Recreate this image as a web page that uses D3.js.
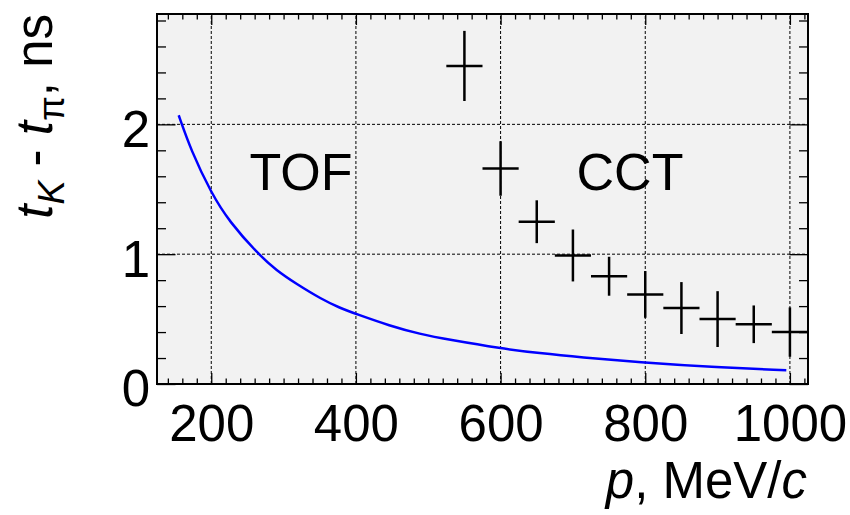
<!DOCTYPE html>
<html>
<head>
<meta charset="utf-8">
<script src="https://d3js.org/d3.v7.min.js"></script>
<style>
  body { margin: 0; background: #fff; }
  text { font-family: "Liberation Sans", Arial, Helvetica, sans-serif; }
</style>
</head>
<body>
<script>

// CCT points: momentum bin centre, t_K - t_pi and its error
var cctP   = [550, 600, 650, 700, 750, 800, 850, 900, 950, 1000];
var cctDt  = [2.45, 1.66, 1.25, 0.99, 0.83, 0.69, 0.585, 0.50, 0.46, 0.40];
var cctErr = [0.27, 0.21, 0.165, 0.20, 0.15, 0.18, 0.20, 0.215, 0.145, 0.19];
var pHalfBin = 25;

// TOF curve
var tofP  = [155, 172, 200, 225, 265, 290, 318, 352, 378, 400, 447, 488, 530, 600, 654, 709, 800, 889, 995];
var tofDt = [2.07, 1.80, 1.47, 1.25, 1.00, 0.875, 0.77, 0.655, 0.585, 0.54, 0.448, 0.385, 0.34, 0.274, 0.237, 0.206, 0.164, 0.131, 0.105];

var xTicks = [200, 400, 600, 800, 1000];
var yTicks = [0, 1, 2];
var xMinor = [140, 160, 180, 220, 240, 260, 280, 300, 320, 340, 360, 380, 420, 440, 460, 480, 500, 520, 540, 560, 580,
              620, 640, 660, 680, 700, 720, 740, 760, 780, 820, 840, 860, 880, 900, 920, 940, 960, 980, 1020];
var yMinor = [0.2, 0.4, 0.6, 0.8, 1.2, 1.4, 1.6, 1.8, 2.2, 2.4, 2.6, 2.8];

var width = 850, height = 515;
var margin = {top: 14, right: 42, bottom: 131, left: 157};
var fs = 51;

var svg = d3.select("body").append("svg")
    .attr("width", width)
    .attr("height", height);

var x = d3.scaleLinear().domain([125, 1025]).range([margin.left, width - margin.right]);
var y = d3.scaleLinear().domain([0, 2.85]).range([height - margin.bottom, margin.top]);

var x0 = x.range()[0], x1 = x.range()[1], y0 = y.range()[0], y1 = y.range()[1];

svg.append("defs").append("clipPath").attr("id", "frame")
  .append("rect").attr("x", x0).attr("y", y1).attr("width", x1 - x0).attr("height", y0 - y1);

// frame fill
svg.append("rect")
    .attr("x", x0).attr("y", y1)
    .attr("width", x1 - x0).attr("height", y0 - y1)
    .attr("fill", "#f2f2f2");

// grid
var grid = svg.append("g").attr("stroke", "#000").attr("stroke-width", 1)
    .attr("stroke-dasharray", "3,2");
grid.selectAll(".gx").data(xTicks).enter().append("line")
    .attr("x1", function(d) { return x(d); }).attr("x2", function(d) { return x(d); })
    .attr("y1", y0).attr("y2", y1);
grid.selectAll(".gy").data(yTicks.filter(function(d) { return d > 0; })).enter().append("line")
    .attr("x1", x0).attr("x2", x1)
    .attr("y1", function(d) { return y(d); }).attr("y2", function(d) { return y(d); });

// axes: major ticks + labels, minor ticks, mirrored ticks on top/right
function styleAxis(g) {
  g.select(".domain").remove();
  g.selectAll("line").attr("stroke", "#000").attr("stroke-width", 1.3);
  g.selectAll("text").attr("fill", "#000").attr("font-size", fs).attr("font-family", null);
}

svg.append("g").attr("transform", "translate(0," + y0 + ")")
    .call(d3.axisBottom(x).tickValues(xTicks).tickSize(-11).tickPadding(21).tickFormat(d3.format("d")))
    .call(styleAxis);
svg.append("g").attr("transform", "translate(0," + y0 + ")")
    .call(d3.axisBottom(x).tickValues(xMinor).tickSize(-5.5).tickFormat(""))
    .call(styleAxis);
svg.append("g").attr("transform", "translate(0," + y1 + ")")
    .call(d3.axisTop(x).tickValues(xTicks).tickSize(-11).tickFormat(""))
    .call(styleAxis);
svg.append("g").attr("transform", "translate(0," + y1 + ")")
    .call(d3.axisTop(x).tickValues(xMinor).tickSize(-5.5).tickFormat(""))
    .call(styleAxis);

svg.append("g").attr("transform", "translate(" + x0 + ",0)")
    .call(d3.axisLeft(y).tickValues(yTicks).tickSize(-18.5).tickPadding(7).tickFormat(d3.format("d")))
    .call(styleAxis)
  .selectAll("text").attr("dy", "0.43em");
svg.append("g").attr("transform", "translate(" + x0 + ",0)")
    .call(d3.axisLeft(y).tickValues(yMinor).tickSize(-9).tickFormat(""))
    .call(styleAxis);
svg.append("g").attr("transform", "translate(" + x1 + ",0)")
    .call(d3.axisRight(y).tickValues(yTicks).tickSize(-18.5).tickFormat(""))
    .call(styleAxis);
svg.append("g").attr("transform", "translate(" + x1 + ",0)")
    .call(d3.axisRight(y).tickValues(yMinor).tickSize(-9).tickFormat(""))
    .call(styleAxis);

// TOF curve
var line = d3.line()
    .x(function(d) { return x(d[0]); })
    .y(function(d) { return y(d[1]); })
    .curve(d3.curveBasis);

svg.append("path")
    .datum(d3.zip(tofP, tofDt))
    .attr("fill", "none")
    .attr("stroke", "#0000ff")
    .attr("stroke-width", 2.5)
    .attr("d", line);

// CCT crosses
var pts = svg.append("g").attr("clip-path", "url(#frame)")
    .attr("stroke", "#000").attr("stroke-width", 2.5);
var cross = pts.selectAll("g").data(d3.range(cctP.length)).enter().append("g");
cross.append("line")
    .attr("x1", function(i) { return x(cctP[i] - pHalfBin); })
    .attr("x2", function(i) { return x(cctP[i] + pHalfBin); })
    .attr("y1", function(i) { return y(cctDt[i]); })
    .attr("y2", function(i) { return y(cctDt[i]); });
cross.append("line")
    .attr("x1", function(i) { return x(cctP[i]); })
    .attr("x2", function(i) { return x(cctP[i]); })
    .attr("y1", function(i) { return y(cctDt[i] - cctErr[i]); })
    .attr("y2", function(i) { return y(cctDt[i] + cctErr[i]); });

// frame border
svg.append("rect")
    .attr("x", x0).attr("y", y1)
    .attr("width", x1 - x0).attr("height", y0 - y1)
    .attr("fill", "none").attr("stroke", "#000").attr("stroke-width", 2);

// labels
svg.append("text").attr("x", 301).attr("y", 190)
    .attr("text-anchor", "middle").attr("font-size", 52).text("TOF");
svg.append("text").attr("x", 630).attr("y", 190)
    .attr("text-anchor", "middle").attr("font-size", 52).text("CCT");

// axis titles
var xt = svg.append("text")
    .attr("x", x1 - 1).attr("y", 498)
    .attr("text-anchor", "end").attr("font-size", fs);
xt.append("tspan").attr("font-style", "italic").text("p");
xt.append("tspan").text(", MeV/");
xt.append("tspan").attr("font-style", "italic").text("c");

var yt = svg.append("text")
    .attr("transform", "translate(52," + y1 + ") rotate(-90)")
    .attr("text-anchor", "end").attr("font-size", fs);
yt.append("tspan").attr("font-style", "italic").text("t");
yt.append("tspan").attr("font-style", "italic").attr("font-size", 36).attr("dy", 12).text("K");
yt.append("tspan").attr("dy", -12).text(" - ");
yt.append("tspan").attr("font-style", "italic").text("t");
yt.append("tspan").attr("font-size", 36).attr("dy", 12).text("\u03c0");
yt.append("tspan").attr("dy", -12).text(", ns");

</script>
</body>
</html>
